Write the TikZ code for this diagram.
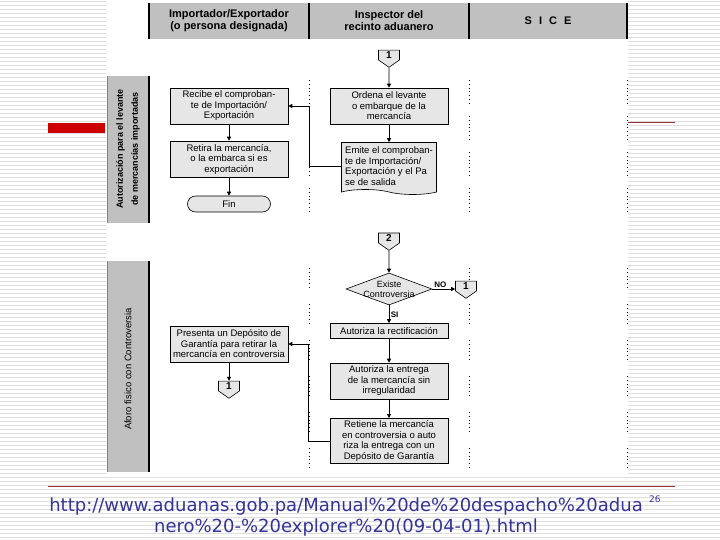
\documentclass[tikz,border=0pt]{standalone}
\usepackage{fontspec}
\setmainfont{Liberation Sans}
\newfontfamily\urlfont{DejaVu Sans}
\usepackage{xcolor}
\usetikzlibrary{arrows.meta,positioning,shapes.geometric,shapes.symbols,shapes.misc}

\definecolor{hdrgray}{RGB}{192,192,192}
\definecolor{boxgray}{RGB}{230,230,230}
\definecolor{stripe}{RGB}{222,222,222}
\definecolor{slidered}{RGB}{204,0,0}
\definecolor{linered}{RGB}{153,51,51}
\definecolor{urlblue}{RGB}{51,51,153}

\begin{document}
\begin{tikzpicture}[x=1pt,y=-1pt,
    box/.style={draw=black,line width=0.6pt,fill=boxgray,minimum width=118pt,minimum height=36pt,inner sep=1pt,align=center,font=\fontsize{9.5}{10.5}\selectfont},
    offpage/.style={signal,signal to=south,signal pointer angle=110,draw=black,line width=0.6pt,fill=boxgray,minimum width=21pt,inner sep=1.5pt,font=\bfseries\fontsize{10}{10}\selectfont},
    doc/.style={tape,tape bend top=none,tape bend bottom=out and in,draw=black,line width=0.6pt,fill=boxgray,minimum width=95pt,minimum height=52pt,inner sep=2pt,align=left,font=\fontsize{9.5}{10.5}\selectfont},
    term/.style={rounded rectangle,draw=black,line width=0.6pt,fill=boxgray,minimum width=85pt,minimum height=16pt,inner sep=1pt,font=\fontsize{9.5}{10.5}\selectfont},
    decide/.style={diamond,draw=black,line width=0.6pt,fill=boxgray,minimum width=86pt,minimum height=32pt,inner sep=0pt},
    flow/.style={line width=0.7pt,-{Triangle[length=4pt,width=4pt]}},
    flowlbl/.style={font=\bfseries\fontsize{8}{8}\selectfont,inner sep=1.5pt},
    hdr/.style={align=center,font=\bfseries\fontsize{11}{12}\selectfont},
    lanetxt/.style={rotate=90,align=center},
    colsep/.style={line width=0.8pt,dash pattern=on 0.8pt off 3pt},
    urltext/.style={text=urlblue,inner sep=0pt,font=\urlfont\fontsize{18}{18}\selectfont},
]
    \useasboundingbox (0,0) rectangle (720,540);

    % Slide background
    \foreach \y in {1,5,...,537} \draw[stripe,line width=0.8pt] (0,\y) -- (720,\y);
    \fill[white] (106,0) rectangle (628,477);
    \fill[slidered] (48,123) rectangle (105,133);
    \draw[linered,line width=1pt] (628,123) -- (675,123);
    \draw[linered,line width=1pt] (48,486) -- (675,486);

    % Header
    \fill[hdrgray] (149,3) rectangle (627,39);
    \foreach \x in {149,309,469,627} \draw[line width=1.2pt] (\x,3) -- (\x,39);
    \node[hdr] (himp) at (229,21) {Importador/Exportador\\(o persona designada)};
    \node[hdr] (hins) at (389,21) {Inspector del\\recinto aduanero};
    \node[hdr] (hsice) at (548,21) {S\hspace{7pt}I\hspace{7pt}C\hspace{7pt}E};

    % Lanes
    \fill[hdrgray] (107,76) rectangle (149,223);
    \fill[hdrgray] (107,261) rectangle (149,472);
    \draw[line width=1.2pt] (149,76) -- (149,223) (149,261) -- (149,472);
    \draw[gray,line width=0.5pt] (107,76) -- (107,223) (107,261) -- (107,472);
    \node[lanetxt,font=\bfseries\fontsize{9}{15}\selectfont] (lane1) at (128,149) {Autorización para el levante\\de mercancías importadas};
    \node[lanetxt,font=\fontsize{9.5}{11}\selectfont] (lane2) at (128,369) {Aforo físico con Controversia};

    % Column guides
    \foreach \x in {309,469,627}{
        \foreach \y in {80,116,152,188} \draw[colsep] (\x,\y) -- (\x,\y+24);
        \foreach \y in {268,304,340,376,412,448} \draw[colsep] (\x,\y) -- (\x,\y+22);
    }

    % Lane 1: levante
    \node[offpage] (k1) at (389,55) {1};
    \node[box] (ordena) at (389,106) {Ordena el levante\\o embarque de la\\mercancía};
    \node[box] (recibe) at (229,106) {Recibe el comproban-\\te de Importación/\\Exportación};
    \node[doc] (emite) at (389,166) {Emite el comproban-\\te de Importación/\\Exportación y el Pa\\se de salida};
    \node[box] (retira) at (229,159) {Retira la mercancía,\\o la embarca si es\\exportación};
    \node[term] (fin) at (229,204) {Fin};

    \draw[flow] (k1) -- (ordena);
    \draw[flow] (ordena) -- (emite);
    \draw[flow] (emite.west) -- ++(-32,0) |- (recibe.east);
    \draw[flow] (recibe) -- (retira);
    \draw[flow] (retira) -- (fin);

    % Lane 2: controversia
    \node[offpage] (k2) at (389,238) {2};
    \node[decide,label={[align=center,font=\fontsize{9}{10}\selectfont]center:Existe\\Controversia}] (existe) at (389,289) {};
    \node[offpage] (k3) at (466,286) {1};
    \node[box,minimum height=15pt] (rectif) at (389,331) {Autoriza la rectificación};
    \node[box] (entrega) at (389,381) {Autoriza la entrega\\de la mercancía sin\\irregularidad};
    \node[box,minimum height=45pt,line width=1pt] (retiene) at (389,441) {Retiene la mercancía\\en controversia o auto\\riza la entrega con un\\Depósito de Garantía};
    \node[box] (presenta) at (229,344) {Presenta un Depósito de\\Garantía para retirar la\\mercancía en controversia};
    \node[offpage] (k4) at (229,386) {1};

    \draw[flow] (k2) -- (existe);
    \draw[flow] (existe.east) -- node[flowlbl,above,pos=0.35] {NO} (existe.east -| k3.west);
    \draw[flow] (existe) -- node[flowlbl,right] {SI} (rectif);
    \draw[flow] (rectif) -- (entrega);
    \draw[flow] (entrega) -- (retiene);
    \draw[flow] (retiene.west) -- ++(-21,0) |- (presenta.east);
    \draw[flow] (presenta) -- (k4);

    % Footer
    \node[urltext] (url1) at (346,507) {http://www.aduanas.gob.pa/Manual\%20de\%20despacho\%20adua};
    \node[urltext] (url2) at (346,528) {nero\%20-\%20explorer\%20(09-04-01).html};
    \node[text=urlblue,font=\urlfont\fontsize{9}{9}\selectfont,anchor=west,inner sep=0pt] (pgnum) at (649,499) {26};
\end{tikzpicture}
\end{document}
